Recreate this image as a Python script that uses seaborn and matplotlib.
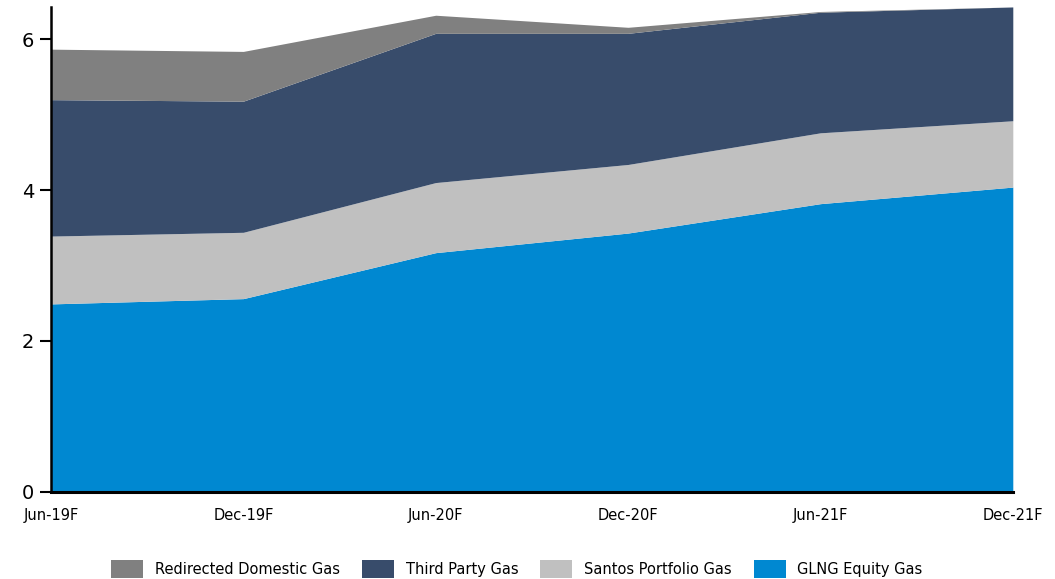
import numpy as np
import pandas as pd
import seaborn as sns
import matplotlib.pyplot as plt
from matplotlib.patches import Patch

periods = ["Jun-19F", "Dec-19F", "Jun-20F", "Dec-20F", "Jun-21F", "Dec-21F"]
glng_equity = [2.49, 2.56, 3.17, 3.43, 3.82, 4.04]
santos_portfolio = [0.90, 0.88, 0.93, 0.91, 0.94, 0.88]
third_party = [1.81, 1.74, 1.98, 1.74, 1.60, 1.51]
redirected_domestic = [0.67, 0.66, 0.24, 0.08, 0.01, 0.0]

series = ["GLNG Equity Gas", "Santos Portfolio Gas", "Third Party Gas", "Redirected Domestic Gas"]
colors = {
    "GLNG Equity Gas": "#0088d1",
    "Santos Portfolio Gas": "#c0c0c0",
    "Third Party Gas": "#384c6b",
    "Redirected Domestic Gas": "#808080",
}

df = pd.DataFrame({
    "period": periods,
    "GLNG Equity Gas": glng_equity,
    "Santos Portfolio Gas": santos_portfolio,
    "Third Party Gas": third_party,
    "Redirected Domestic Gas": redirected_domestic,
})

sns.set_style("white", {"text.color": "black", "xtick.color": "black", "ytick.color": "black"})
plt.rcParams["font.family"] = ["DejaVu Sans"]

fig = plt.figure(figsize=(10.55, 5.79), dpi=100)
ax = fig.add_axes([0.0483, 0.151, 0.9117, 0.837])

x = np.arange(len(df))
ax.stackplot(x, *[df[s] for s in series], colors=[colors[s] for s in series], linewidth=0)

ax.set_xlim(0, len(df) - 1)
ax.set_ylim(0, 6.43)
ax.set_yticks([0, 2, 4, 6])
ax.set_xticks(x)
ax.set_xticklabels(df["period"], fontsize=10.5)
ax.tick_params(axis="y", labelsize=14, length=8, width=1.5, direction="out", left=True, pad=4,
               colors="black")
ax.tick_params(axis="x", length=0, pad=12, colors="black")
sns.despine(ax=ax)
ax.spines["left"].set_linewidth(1.8)
ax.spines["bottom"].set_linewidth(2.2)
ax.spines["left"].set_color("black")
ax.spines["bottom"].set_color("black")

legend_order = ["Redirected Domestic Gas", "Third Party Gas", "Santos Portfolio Gas", "GLNG Equity Gas"]
handles = [Patch(facecolor=colors[s], edgecolor="none", label=s) for s in legend_order]
fig.legend(handles=handles, loc="center", bbox_to_anchor=(0.49, 0.017), ncol=4,
           frameon=False, fontsize=10.5, handlelength=2.2, handleheight=1.5,
           columnspacing=1.5, handletextpad=0.8, labelcolor="black")

fig.savefig("out.png", dpi=100)
